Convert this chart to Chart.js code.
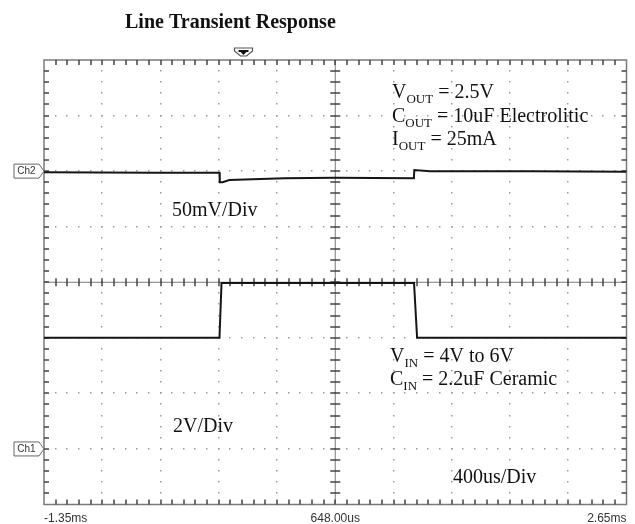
<!DOCTYPE html>
<html>
<head>
<meta charset="utf-8">
<script src="https://cdn.jsdelivr.net/npm/chart.js@4.4.1/dist/chart.umd.min.js"></script>
<style>
  html, body { margin: 0; padding: 0; background: #fff; }
  canvas { display: block; }
</style>
</head>
<body>
<canvas id="scope" width="635" height="524"></canvas>
<script>
// time base: 400us/div, 10 divisions, centre at 648us
let timeMin = -1352;
let timeMax = 2648;
let timePerDiv = 400;
let tickValues = [-1352, 648, 2648];
let tickLabels = ['-1.35ms', '648.00us', '2.65ms'];
let triggerTime = 18;

// Ch2 : output voltage, AC, 50mV/div, ground marker at +2 div
let ch2Scale = 50;
let ch2Offset = 2;
let ch2Time = [-1352, -600, -147, -145, -125, -80, 300, 648, 1188, 1191, 1300, 2000, 2648];
let ch2Mv = [-1, -1.5, -1.5, -10, -10, -8, -6.5, -6, -6.3, 1, 0, 0, -0.5];

// Ch1 : input voltage, 2V/div, ground marker at -3 div
let ch1Scale = 2;
let ch1Offset = -3;
let ch1Time = [-1352, -147, -133, 1189, 1210, 2648];
let ch1Volt = [4.0, 4.0, 5.97, 5.97, 4.0, 4.0];

function toPoints(times, values, scale, offset) {
    let pts = [];
    for (let i = 0; i < times.length; i++) {
        pts.push({ x: times[i], y: offset + values[i] / scale });
    }
    return pts;
}

function subText(ctx, x, y, main, sub, rest) {
    ctx.font = '20px "Liberation Serif"';
    ctx.fillText(main, x, y);
    x += ctx.measureText(main).width;
    ctx.font = '13px "Liberation Serif"';
    ctx.fillText(sub, x, y + 5);
    x += ctx.measureText(sub).width;
    ctx.font = '20px "Liberation Serif"';
    ctx.fillText(rest, x, y);
}

const graticule = {
    id: 'graticule',
    beforeDatasetsDraw(chart) {
        const ctx = chart.ctx;
        const xs = chart.scales.x;
        const ys = chart.scales.y;
        const a = chart.chartArea;
        const cx = xs.getPixelForValue(timeMin + 5 * timePerDiv);
        const cy = ys.getPixelForValue(0);
        ctx.save();

        // dotted division lines
        ctx.fillStyle = '#9a9a9a';
        for (let i = 1; i < 10; i++) {
            if (i == 5) continue;
            let px = xs.getPixelForValue(timeMin + i * timePerDiv);
            for (let k = 1; k < 40; k++) {
                let py = ys.getPixelForValue(-4 + k * 0.2);
                ctx.fillRect(Math.round(px) - 1, Math.round(py) - 1, 1.5, 1.5);
            }
        }
        for (let j = -3; j <= 3; j++) {
            if (j == 0) continue;
            let py = ys.getPixelForValue(j);
            for (let k = 1; k < 50; k++) {
                let px = xs.getPixelForValue(timeMin + k * timePerDiv / 5);
                ctx.fillRect(Math.round(px) - 1, Math.round(py) - 1, 1.5, 1.5);
            }
        }

        // frame and centre cross
        ctx.strokeStyle = '#7a7a7a';
        ctx.lineWidth = 1.5;
        ctx.strokeRect(a.left, a.top, a.right - a.left, a.bottom - a.top);
        ctx.lineWidth = 1;
        ctx.beginPath();
        ctx.moveTo(cx, a.top); ctx.lineTo(cx, a.bottom);
        ctx.moveTo(a.left, cy); ctx.lineTo(a.right, cy);
        ctx.stroke();

        // minor ticks
        ctx.strokeStyle = '#444';
        ctx.lineWidth = 1.5;
        ctx.beginPath();
        for (let k = 1; k < 50; k++) {
            let px = Math.round(xs.getPixelForValue(timeMin + k * timePerDiv / 5));
            ctx.moveTo(px, a.top); ctx.lineTo(px, a.top + 5);
            ctx.moveTo(px, a.bottom); ctx.lineTo(px, a.bottom - 5);
            ctx.moveTo(px, cy - 4); ctx.lineTo(px, cy + 4);
        }
        for (let k = 1; k < 40; k++) {
            let py = Math.round(ys.getPixelForValue(-4 + k * 0.2));
            ctx.moveTo(a.left, py); ctx.lineTo(a.left + 5, py);
            ctx.moveTo(a.right, py); ctx.lineTo(a.right - 5, py);
            ctx.moveTo(cx - 5, py); ctx.lineTo(cx + 5, py);
        }
        ctx.stroke();
        ctx.restore();
    },
    afterDraw(chart) {
        const ctx = chart.ctx;
        const xs = chart.scales.x;
        const ys = chart.scales.y;
        const a = chart.chartArea;
        ctx.save();

        // title
        ctx.fillStyle = '#111';
        ctx.font = 'bold 20px "Liberation Serif"';
        ctx.textBaseline = 'alphabetic';
        ctx.fillText('Line Transient Response', 125, 28);

        // channel markers
        let markers = [['Ch2', ch2Offset], ['Ch1', ch1Offset]];
        for (let m of markers) {
            let py = ys.getPixelForValue(m[1]);
            ctx.beginPath();
            ctx.moveTo(14, py - 7);
            ctx.lineTo(39, py - 7);
            ctx.lineTo(a.left, py);
            ctx.lineTo(39, py + 7);
            ctx.lineTo(14, py + 7);
            ctx.closePath();
            ctx.fillStyle = '#fff';
            ctx.fill();
            ctx.strokeStyle = '#666';
            ctx.lineWidth = 1;
            ctx.stroke();
            ctx.fillStyle = '#333';
            ctx.font = '10px "Liberation Sans"';
            ctx.textAlign = 'center';
            ctx.textBaseline = 'middle';
            ctx.fillText(m[0], 26.5, py + 0.5);
        }

        // trigger marker
        let tx = xs.getPixelForValue(triggerTime);
        ctx.beginPath();
        ctx.moveTo(tx - 9, 48);
        ctx.lineTo(tx + 9, 48);
        ctx.lineTo(tx + 9, 51);
        ctx.lineTo(tx + 3, 56);
        ctx.lineTo(tx - 3, 56);
        ctx.lineTo(tx - 9, 51);
        ctx.closePath();
        ctx.fillStyle = '#fff';
        ctx.fill();
        ctx.strokeStyle = '#555';
        ctx.lineWidth = 1.2;
        ctx.stroke();
        ctx.fillStyle = '#111';
        ctx.fillRect(tx - 5, 50, 10, 2);
        ctx.beginPath();
        ctx.moveTo(tx - 3, 52); ctx.lineTo(tx + 3, 52); ctx.lineTo(tx, 55);
        ctx.closePath();
        ctx.fill();

        // annotations
        ctx.textAlign = 'left';
        ctx.textBaseline = 'alphabetic';
        ctx.fillStyle = '#111';
        subText(ctx, 392, 98, 'V', 'OUT', ' = 2.5V');
        subText(ctx, 392, 122, 'C', 'OUT', ' = 10uF Electrolitic');
        subText(ctx, 392, 145, 'I', 'OUT', ' = 25mA');
        subText(ctx, 390, 362, 'V', 'IN', ' = 4V to 6V');
        subText(ctx, 390, 385, 'C', 'IN', ' = 2.2uF Ceramic');
        ctx.font = '20px "Liberation Serif"';
        ctx.fillText('50mV/Div', 172, 216);
        ctx.fillText('2V/Div', 173, 432);
        ctx.fillText('400us/Div', 453, 483);
        ctx.restore();
    }
};

new Chart(document.getElementById('scope'), {
    type: 'line',
    data: {
        datasets: [
            {
                label: 'Ch2',
                data: toPoints(ch2Time, ch2Mv, ch2Scale, ch2Offset),
                borderColor: '#151515',
                borderWidth: 2,
                pointRadius: 0,
                tension: 0
            },
            {
                label: 'Ch1',
                data: toPoints(ch1Time, ch1Volt, ch1Scale, ch1Offset),
                borderColor: '#151515',
                borderWidth: 2,
                pointRadius: 0,
                tension: 0
            }
        ]
    },
    options: {
        responsive: false,
        animation: false,
        devicePixelRatio: 1,
        layout: { padding: { top: 60, left: 44, right: 7, bottom: -9.5 } },
        plugins: {
            legend: { display: false },
            tooltip: { enabled: false }
        },
        scales: {
            x: {
                type: 'linear',
                min: timeMin,
                max: timeMax,
                afterBuildTicks: (scale) => {
                    scale.ticks = tickValues.map(v => ({ value: v }));
                },
                ticks: {
                    autoSkip: false,
                    maxRotation: 0,
                    align: 'inner',
                    padding: 8.5,
                    color: '#333',
                    font: { family: '"Liberation Sans"', size: 12, lineHeight: 1 },
                    callback: (value, index) => tickLabels[index]
                },
                grid: { display: false, drawTicks: false },
                border: { display: false }
            },
            y: {
                type: 'linear',
                min: -4,
                max: 4,
                display: false
            }
        }
    },
    plugins: [graticule]
});
</script>
</body>
</html>
